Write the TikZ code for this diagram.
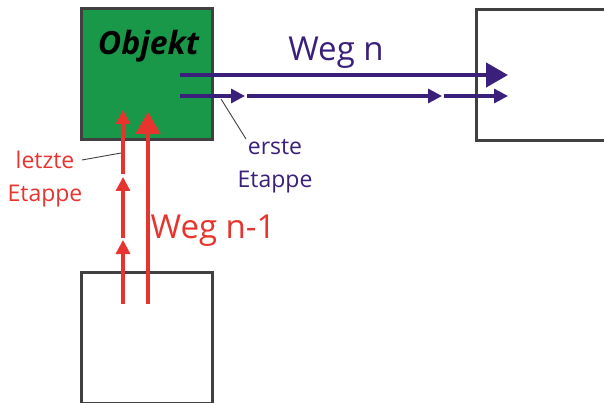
\documentclass[tikz,border=0pt]{standalone}
\usepackage{fontspec}
\setmainfont{Open Sans}
\usepackage{xcolor}
\usepackage{tikz}
\usetikzlibrary{arrows.meta}

\definecolor{objgruen}{RGB}{24,152,72}
\definecolor{wegblau}{RGB}{58,32,122}
\definecolor{wegrot}{RGB}{232,52,46}
\definecolor{rahmen}{RGB}{64,64,64}

\begin{document}
\begin{tikzpicture}[x=1pt, y=-1pt,
  box/.style={rectangle, draw=rahmen, line width=3pt, minimum width=131pt, minimum height=131pt, inner sep=0pt},
  weg/.style={line width=4.5pt, -{Triangle[length=22pt, width=24pt]}},
  etappe/.style={line width=3.2pt, -{Triangle[length=14pt, width=14pt]}},
  zeiger/.style={draw=rahmen, line width=0.9pt},
  gross/.style={font=\fontsize{33}{38}\selectfont},
  klein/.style={align=center, font=\fontsize{23}{33}\selectfont}
]
  \useasboundingbox (0,0) rectangle (604,403);
  \clip (0,0) rectangle (604,403);

  \node[box, fill=objgruen] (objekt) at (146.5,74.3) {};
  \node[box] (ziel) at (541.8,75) {};
  \node[box] (start) at (147.3,337.8) {};
  \node[anchor=base, font=\fontsize{32}{36}\selectfont\bfseries\itshape] (objtext) at (148.5,55) {Objekt};

  % Weg n
  \coordinate (n0) at (180,75);
  \coordinate (n1) at (508,75);
  \coordinate (e0) at (180,96);
  \coordinate (e1) at (245,96);
  \coordinate (e2) at (247,96);
  \coordinate (e3) at (442,96);
  \coordinate (e4) at (444,96);
  \coordinate (e5) at (508,96);
  \draw[weg, wegblau] (n0) -- (n1);
  \draw[etappe, wegblau] (e0) -- (e1);
  \draw[etappe, wegblau] (e2) -- (e3);
  \draw[etappe, wegblau] (e4) -- (e5);
  \node[gross, anchor=base, text=wegblau] (wegn) at (336,61) {Weg n};
  \node[klein, anchor=base, text=wegblau] (erste) at (275,188) {erste\\Etappe};
  \coordinate (ez) at (221,99);
  \coordinate (ez1) at (246,139);
  \draw[zeiger] (ez) -- (ez1);

  % Weg n-1
  \coordinate (m0) at (148,304);
  \coordinate (m1) at (148,112);
  \coordinate (l0) at (123,304);
  \coordinate (l1) at (123,240);
  \coordinate (l2) at (123,238);
  \coordinate (l3) at (123,177);
  \coordinate (l4) at (123,174);
  \coordinate (l5) at (123,110);
  \draw[weg, wegrot] (m0) -- (m1);
  \draw[etappe, wegrot] (l0) -- (l1);
  \draw[etappe, wegrot] (l2) -- (l3);
  \draw[etappe, wegrot] (l4) -- (l5);
  \node[gross, anchor=base, text=wegrot] (wegn1) at (213,238) {Weg n-1};
  \node[klein, anchor=base, text=wegrot] (letzte) at (45,202) {letzte\\Etappe};
  \coordinate (lz) at (82,160);
  \coordinate (lz1) at (121,153);
  \draw[zeiger] (lz) -- (lz1);
\end{tikzpicture}
\end{document}
